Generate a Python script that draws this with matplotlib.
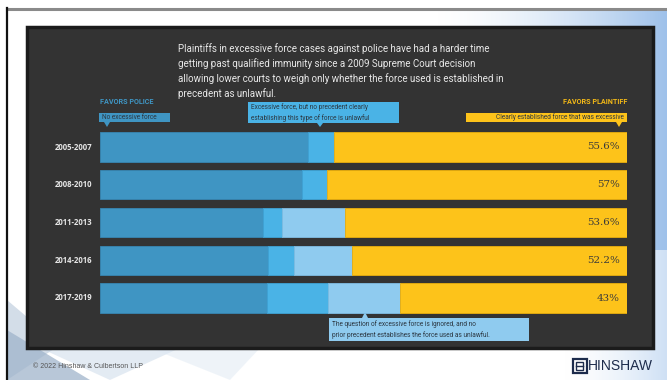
import numpy as np
import matplotlib.pyplot as plt
from matplotlib.patches import Rectangle, Polygon

# share of cases per period (percent of all rulings)
periods = ["2005-2007", "2008-2010", "2011-2013", "2014-2016", "2017-2019"]
no_force = [39.5, 38.3, 30.9, 31.9, 31.7]
no_precedent = [4.9, 4.7, 3.6, 4.9, 11.6]
ignored = [0.0, 0.0, 11.9, 11.0, 13.7]
plaintiff = [55.6, 57.0, 53.6, 52.2, 43.0]
pct_labels = ["55.6%", "57%", "53.6%", "52.2%", "43%"]

title = ("Plaintiffs in excessive force cases against police have had a harder time\n"
         "getting past qualified immunity since a 2009 Supreme Court decision\n"
         "allowing lower courts to weigh only whether the force used is established in\n"
         "precedent as unlawful.")

c_dark = "#3f95c3"
c_mid = "#4ab3e6"
c_light = "#8fcbef"
c_yel = "#fdc31a"
panel = "#333333"

W, H = 667, 380
fig = plt.figure(figsize=(W / 100, H / 100), dpi=100, facecolor="white")
bg = fig.add_axes([0, 0, 1, 1])
bg.set_xlim(0, W)
bg.set_ylim(H, 0)
bg.axis("off")

# slide background decorations
grad = np.linspace(0, 1, 200) ** 1.6
img = np.zeros((2, 200, 4))
img[..., 0] = 0.62
img[..., 1] = 0.76
img[..., 2] = 0.92
img[..., 3] = grad
bg.imshow(img, extent=[430, W, 250, 9], aspect="auto", zorder=0)
bg.imshow(img, extent=[560, W, H, 240], aspect="auto", zorder=0, alpha=0.5)
for pts, col, a in [
    ([(7, 330), (90, 380), (7, 380)], "#7f9ab8", 0.55),
    ([(7, 300), (60, 345), (7, 380)], "#9fb4cc", 0.45),
    ([(40, 348), (180, 348), (110, 380)], "#c9d8e8", 0.5),
    ([(150, 348), (260, 348), (230, 380)], "#dfe9f3", 0.5),
]:
    bg.add_patch(Polygon(pts, closed=True, facecolor=col, alpha=a, lw=0, zorder=0.5))
bg.plot([7, W], [8.5, 8.5], color="#8a8a8a", lw=2.2, zorder=1)
bg.plot([6.5, 6.5], [8, H], color="#111111", lw=1.6, zorder=1)

# dark panel
bg.add_patch(Rectangle((27, 27), 626, 321, facecolor=panel, edgecolor="#1b1b1b",
                       lw=2.5, zorder=1))

bg.text(178, 43, title, color="#e8e8e8", fontsize=7.0, family="Roboto",
        va="top", ha="left", linespacing=1.45, zorder=3)

# headers and callouts
bg.text(100, 102, "FAVORS POLICE", color=c_dark, fontsize=5.2, family="Roboto",
        fontweight="bold", va="center", ha="left", zorder=3)
bg.text(627, 102, "FAVORS PLAINTIFF", color="#f2b817", fontsize=5.2, family="Roboto",
        fontweight="bold", va="center", ha="right", zorder=3)


def callout(x0, y0, x1, y1, col, tip_x, tip_y, text, ha="left"):
    bg.add_patch(Rectangle((x0, y0), x1 - x0, y1 - y0, facecolor=col, lw=0, zorder=3))
    base = y1 if tip_y > y1 else y0
    bg.add_patch(Polygon([(tip_x - 3, base), (tip_x + 3, base), (tip_x, tip_y)],
                         closed=True, facecolor=col, lw=0, zorder=3))
    tx = x0 + 3 if ha == "left" else x1 - 3
    bg.text(tx, (y0 + y1) / 2, text, color="#2b3640", fontsize=4.7, family="Roboto",
            va="center", ha=ha, linespacing=1.5, zorder=4)


callout(99, 112.5, 170, 122, c_dark, 107, 127, "No excessive force")
callout(248, 102, 399, 123, c_mid, 320, 127,
        "Excessive force, but no precedent clearly\nestablishing this type of force is unlawful")
callout(466, 112.5, 627, 122, c_yel, 619, 127,
        "Clearly established force that was excessive", ha="right")
callout(329, 318, 529, 341, c_light, 365, 312,
        "The question of excessive force is ignored, and no\n"
        "prior precedent establishes the force used as unlawful.")

# bars
ax = fig.add_axes([100 / W, 1 - 317 / H, 527 / W, 189 / H])
ax.set_xlim(0, 100)
ax.set_ylim(4.5, -0.5)
ax.axis("off")
y = np.arange(len(periods))
left = np.zeros(len(periods))
for vals, col, ec in [(no_force, c_dark, "#3786b2"), (no_precedent, c_mid, "#3fa3d6"),
                      (ignored, c_light, "#7fbde3"), (plaintiff, c_yel, "#e9ae0e")]:
    vals = np.array(vals)
    ax.barh(y, vals, left=left, height=0.78, color=col, edgecolor=ec, lw=0.6, zorder=2)
    left += vals

for i, lab in enumerate(pct_labels):
    ax.text(98.6, i, lab, color="#3a3a3a", fontsize=7.4, family="DejaVu Serif",
            ha="right", va="center", zorder=3)
    bg.text(92, 147 + i * 37.75, periods[i], color="#e6e6e6", fontsize=5.6,
            family="Open Sans", fontweight="bold", ha="right", va="center", zorder=3)

# footer
bg.text(33, 367, "\u00a9 2022 Hinshaw & Culbertson LLP", color="#555555", fontsize=5,
        family="Liberation Sans", va="center", ha="left", zorder=3)
bg.add_patch(Rectangle((572.5, 358.5), 14, 14, facecolor="white", edgecolor="#1d2c4c",
                       lw=1.6, zorder=3))
bg.add_patch(Rectangle((576, 361.5), 7, 8, facecolor="none", edgecolor="#1d2c4c",
                       lw=1.0, zorder=3))
bg.plot([576, 583], [365.5, 365.5], color="#1d2c4c", lw=1.0, zorder=4)
bg.text(588, 366, "HINSHAW", color="#1d2c4c", fontsize=10, family="Liberation Sans",
        va="center", ha="left", zorder=3)

fig.savefig("out.png", dpi=100, facecolor="white")
